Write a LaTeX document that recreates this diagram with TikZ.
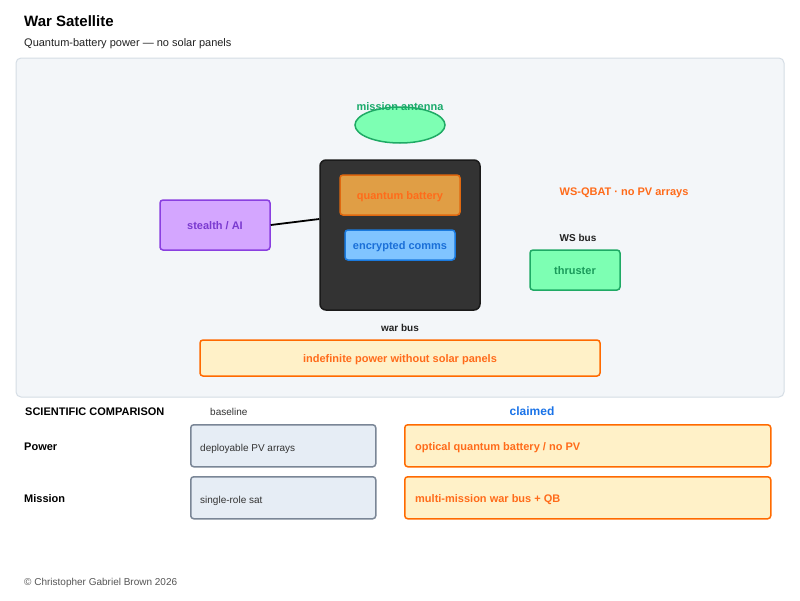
\documentclass[tikz,border=0pt]{standalone}
\usepackage{fontspec}
\setmainfont{Liberation Sans}
\usetikzlibrary{shapes.geometric}
\definecolor{panelfill}{HTML}{F3F6F9}
\definecolor{panelline}{HTML}{D5DDE5}
\definecolor{antfill}{HTML}{7DFFB3}
\definecolor{antline}{HTML}{1FAA65}
\definecolor{anttext}{HTML}{1AAA6B}
\definecolor{busfill}{HTML}{333333}
\definecolor{busline}{HTML}{1A1A1A}
\definecolor{qbfill}{HTML}{E09E45}
\definecolor{qbline}{HTML}{E0680F}
\definecolor{orangetext}{HTML}{FF6B1A}
\definecolor{commfill}{HTML}{80C4FF}
\definecolor{commline}{HTML}{1A7ADF}
\definecolor{commtext}{HTML}{1A6FD8}
\definecolor{stfill}{HTML}{D4A6FF}
\definecolor{stline}{HTML}{8A3FE0}
\definecolor{sttext}{HTML}{7A3AD0}
\definecolor{thtext}{HTML}{1A9A5A}
\definecolor{creamfill}{HTML}{FFF1C8}
\definecolor{orangeline}{HTML}{FF6A00}
\definecolor{basefill}{HTML}{E6EDF5}
\definecolor{baseline}{HTML}{7A8696}
\definecolor{darktext}{HTML}{222222}
\definecolor{graytext}{HTML}{333333}
\definecolor{copytext}{HTML}{555555}
\definecolor{claimblue}{HTML}{1A73E8}
\begin{document}
\begin{tikzpicture}[x=1pt,y=-1pt,
  box/.style={draw,rounded corners=3pt,line width=1.5pt,inner sep=0pt,text height=0.95em,text depth=0pt},
  lbl/.style={inner sep=0pt,text height=0.95em,text depth=0pt,font=\fontsize{11}{13}\selectfont\bfseries},
  rowtxt/.style={anchor=west,inner sep=0pt,text height=0.8em,text depth=0pt},
  bf11/.style={font=\fontsize{11}{13}\selectfont\bfseries}
]
\useasboundingbox[fill=white] (0,0) rectangle (800,600);
% header
\node[anchor=base west,inner sep=0pt,font=\fontsize{15}{17}\selectfont\bfseries] (title) at (24,26) {War Satellite};
\node[anchor=base west,inner sep=0pt,font=\fontsize{11}{13}\selectfont,text=darktext] (sub) at (24,46) {Quantum-battery power — no solar panels};
% panel
\draw[fill=panelfill,draw=panelline,line width=1pt,rounded corners=5pt] (16,58) rectangle (784,397);
% antenna
\node[ellipse,draw=antline,fill=antfill,line width=1.5pt,minimum width=90pt,minimum height=36pt,inner sep=0pt] (ant) at (400,125) {};
\node[lbl,text=anttext] (antl) at (400,106) {mission antenna};
% war bus
\node[draw=busline,fill=busfill,line width=1.5pt,rounded corners=6pt,minimum width=160pt,minimum height=150pt,inner sep=0pt] (bus) at (400,235) {};
\node[box,draw=qbline,fill=qbfill,minimum width=120pt,minimum height=40pt,text=orangetext,bf11] (qb) at (400,195) {quantum battery};
\node[box,draw=commline,fill=commfill,minimum width=110pt,minimum height=30pt,text=commtext,bf11] (comm) at (400,245) {encrypted comms};
\node[lbl,font=\fontsize{10}{12}\selectfont\bfseries,text=darktext] (busl) at (400,327) {war bus};
% stealth
\node[box,draw=stline,fill=stfill,minimum width=110pt,minimum height=50pt,text=sttext,bf11] (st) at (215,225) {stealth / AI};
\draw[line width=1.8pt,black] (st.east) -- (bus.west |- 0,219);
% right side
\node[lbl,text=orangetext] (qbat) at (624,191) {WS-QBAT · no PV arrays};
\node[lbl,font=\fontsize{10}{12}\selectfont\bfseries,text=darktext] (wsbus) at (578,237) {WS bus};
\node[box,draw=antline,fill=antfill,minimum width=90pt,minimum height=40pt,text=thtext,bf11] (thr) at (575,270) {thruster};
% indefinite power
\node[box,draw=orangeline,fill=creamfill,minimum width=400pt,minimum height=36pt,text=orangetext,bf11] (indef) at (400,358) {indefinite power without solar panels};
% comparison
\node[anchor=base west,inner sep=0pt,font=\fontsize{11}{13}\selectfont\bfseries] (sci) at (25,415) {SCIENTIFIC COMPARISON};
\node[anchor=base west,inner sep=0pt,font=\fontsize{10}{12}\selectfont,text=graytext] (basel) at (210,415) {baseline};
\node[lbl,font=\fontsize{12}{14}\selectfont\bfseries,text=claimblue] (claim) at (532,411) {claimed};
\node[anchor=base west,inner sep=0pt,font=\fontsize{11}{13}\selectfont\bfseries] (pow) at (24,450) {Power};
\node[anchor=base west,inner sep=0pt,font=\fontsize{11}{13}\selectfont\bfseries] (mis) at (24,502) {Mission};
\node[box,draw=baseline,fill=basefill,minimum width=185pt,minimum height=42pt,anchor=north west] (b1) at (190,424) {};
\node[rowtxt,font=\fontsize{10}{12}\selectfont,text=graytext] (b1t) at (200,447) {deployable PV arrays};
\node[box,draw=baseline,fill=basefill,minimum width=185pt,minimum height=42pt,anchor=north west] (b2) at (190,476) {};
\node[rowtxt,font=\fontsize{10}{12}\selectfont,text=graytext] (b2t) at (200,499) {single-role sat};
\node[box,draw=orangeline,fill=creamfill,minimum width=366pt,minimum height=42pt,anchor=north west] (c1) at (404,424) {};
\node[rowtxt,bf11,text=orangetext] (c1t) at (415,446) {optical quantum battery / no PV};
\node[box,draw=orangeline,fill=creamfill,minimum width=366pt,minimum height=42pt,anchor=north west] (c2) at (404,476) {};
\node[rowtxt,bf11,text=orangetext] (c2t) at (415,498) {multi-mission war bus + QB};
% footer
\node[anchor=base west,inner sep=0pt,font=\fontsize{10}{12}\selectfont,text=copytext] (copy) at (24,585) {© Christopher Gabriel Brown 2026};
\end{tikzpicture}
\end{document}
